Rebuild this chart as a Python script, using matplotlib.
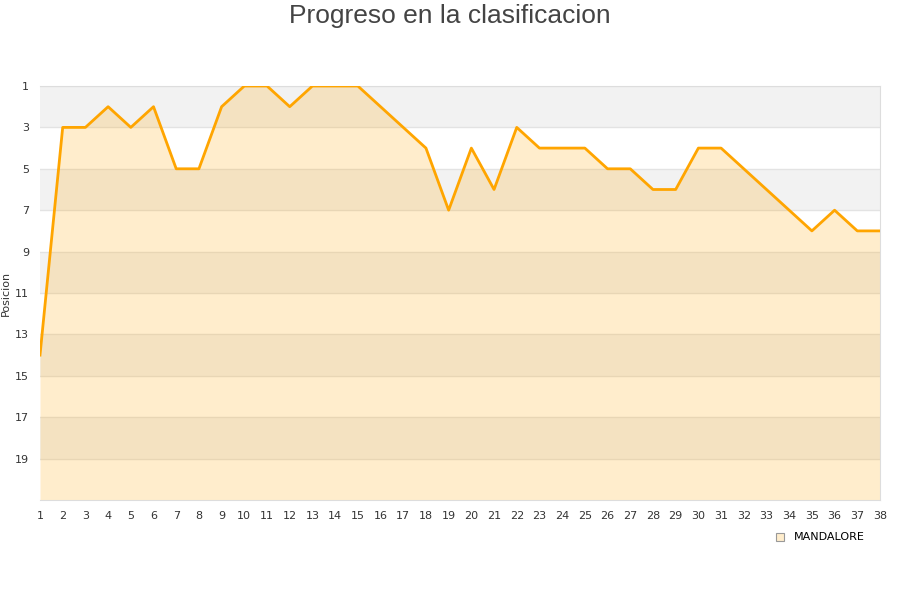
"""Progreso en la clasificacion - position per round."""
import matplotlib.pyplot as plt
from matplotlib.patches import Rectangle

rounds = list(range(1, 39))
positions = [14, 3, 3, 2, 3, 2, 5, 5, 2, 1, 1, 2, 1, 1, 1, 2, 3, 4, 7, 4,
             6, 3, 4, 4, 4, 5, 5, 6, 6, 4, 4, 5, 6, 7, 8, 7, 8, 8]
y_ticks = [1, 3, 5, 7, 9, 11, 13, 15, 17, 19]
team = "MANDALORE"

LINE = "#ffa500"
GRID = "#e3e3e3"
BAND = "#f2f2f2"
TEXT = "#333333"

fig = plt.figure(figsize=(9, 6), dpi=100)
ax = fig.add_axes([40 / 900, 1 - 500 / 600, 840 / 900, 414 / 600])

# alternating bands
for y0 in range(1, 21, 4):
    ax.add_patch(Rectangle((1, y0), 37, 2, facecolor=BAND,
                           edgecolor="none", zorder=0))
for y in y_ticks:
    ax.axhline(y, color=GRID, lw=1, zorder=1)

ax.fill_between(rounds, positions, 21, color=LINE, alpha=0.2,
                linewidth=0, zorder=2)
ax.plot(rounds, positions, color=LINE, lw=2.0, zorder=3)

ax.set_xlim(1, 38)
ax.set_ylim(21, 1)
ax.set_xticks(rounds)
ax.set_yticks(y_ticks)
ax.tick_params(length=0, labelsize=8, colors=TEXT, pad=8)
ax.tick_params(axis="y", pad=8)
for s in ax.spines.values():
    s.set_color("#dddddd")
ax.spines["left"].set_visible(False)

ax.set_ylabel("Posicion", fontsize=8, color=TEXT)
ax.yaxis.set_label_coords(-0.0345, 0.5)

fig.text(0.5, 1 - 16 / 600, "Progreso en la clasificacion", fontsize=19,
         family="Liberation Sans", color="#444444", ha="center", va="center")

# legend
fig.patches.append(Rectangle((776 / 900, 1 - 541 / 600), 8 / 900, 8 / 600,
                             transform=fig.transFigure, facecolor="#ffedcc",
                             edgecolor="#999999", lw=0.8))
fig.text(794 / 900, 1 - 537 / 600, team, fontsize=8, color="#000000",
         va="center", ha="left")

fig.savefig("out.png", dpi=100)
